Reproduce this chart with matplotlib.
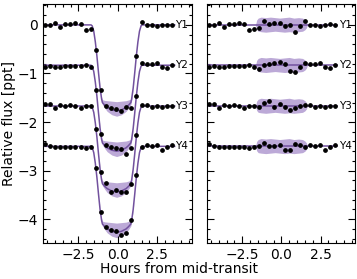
import matplotlib
matplotlib.use("Agg")
import matplotlib.pyplot as plt
from matplotlib.ticker import MultipleLocator
import numpy as np

# observation times (hours from mid-transit)
times = [-4.63, -4.31, -3.98, -3.66, -3.34, -3.02, -2.69, -2.37, -2.05, -1.73,
         -1.40, -1.08, -0.76, -0.44, -0.11, 0.21, 0.53, 0.85, 1.18, 1.50,
         1.82, 2.14, 2.47, 2.79, 3.11, 3.43]

labels = ["Y1", "Y2", "Y3", "Y4"]
offsets = [0.0, -0.83, -1.67, -2.5]

# relative flux [ppt], already shifted by offset
flux_y1 = [-0.01, -0.01, 0.03, -0.05, 0.01, 0.02, 0.03, 0.02, -0.10, -0.09,
           -0.51, -1.33, -1.66, -1.71, -1.74, -1.78, -1.70, -1.71, -0.63, 0.07,
           -0.01, -0.01, -0.03, 0.00, 0.00, -0.01]
flux_y2 = [-0.86, -0.84, -0.86, -0.86, -0.84, -0.84, -0.84, -0.84, -0.83, -0.86,
           -1.34, -2.25, -2.48, -2.52, -2.53, -2.55, -2.65, -2.53, -1.47, -0.79,
           -0.80, -0.80, -0.78, -0.86, -0.89, -0.83]
flux_y3 = [-1.62, -1.63, -1.72, -1.65, -1.67, -1.64, -1.67, -1.72, -1.67, -1.67,
           -2.14, -3.02, -3.25, -3.44, -3.40, -3.45, -3.45, -3.28, -2.27, -1.65,
           -1.64, -1.70, -1.66, -1.70, -1.67, -1.67]
flux_y4 = [-2.45, -2.50, -2.52, -2.51, -2.51, -2.52, -2.51, -2.52, -2.53, -2.52,
           -2.94, -3.85, -4.17, -4.23, -4.24, -4.32, -4.28, -4.01, -3.08, -2.52,
           -2.47, -2.50, -2.47, -2.58, -2.51, -2.47]

# residuals [ppt]
resid_y1 = [-0.01, -0.01, 0.03, -0.05, 0.01, 0.02, 0.03, 0.02, -0.10, -0.09,
            -0.07, 0.09, 0.02, 0.03, 0.03, -0.03, 0.00, -0.15, -0.02, 0.08,
            -0.01, -0.01, -0.03, 0.00, 0.01, -0.01]
resid_y2 = [-0.03, -0.01, -0.03, -0.03, -0.01, -0.01, -0.01, -0.01, 0.00, -0.03,
            -0.07, 0.00, 0.03, 0.05, 0.07, 0.03, -0.12, -0.14, -0.03, 0.05,
            0.03, 0.03, 0.05, -0.03, -0.06, 0.00]
resid_y3 = [0.05, 0.04, -0.05, 0.02, 0.00, 0.03, 0.00, -0.05, 0.00, 0.00,
            -0.03, 0.07, 0.10, -0.03, 0.04, -0.03, -0.08, -0.05, 0.01, 0.03,
            0.03, -0.03, 0.01, -0.03, 0.00, 0.00]
resid_y4 = [0.05, 0.00, -0.02, -0.01, -0.01, -0.02, -0.01, -0.02, -0.03, -0.02,
            0.00, 0.07, 0.01, 0.01, 0.03, -0.07, -0.08, 0.05, 0.03, -0.01,
            0.03, 0.00, 0.03, -0.08, -0.01, 0.03]

fluxes = [flux_y1, flux_y2, flux_y3, flux_y4]
resids = [resid_y1, resid_y2, resid_y3, resid_y4]

# transit model (relative to out-of-transit level) and its uncertainty band
model_t = [-4.70, -1.70, -1.63, -1.53, -1.43, -1.33, -1.23, -1.13, -1.03, -0.98,
           -0.83, -0.68, -0.38, -0.08, 0.22, 0.52, 0.67, 0.82, 0.87, 0.97,
           1.07, 1.17, 1.27, 1.37, 1.47, 1.54, 3.60]
model_f = [0, 0, -0.02, -0.13, -0.35, -0.64, -0.98, -1.30, -1.53, -1.60,
           -1.655, -1.70, -1.75, -1.77, -1.75, -1.70, -1.655, -1.60, -1.53, -1.30,
           -0.98, -0.64, -0.35, -0.13, -0.02, 0, 0]
band_up = [0, 0, 0, 0, 0, 0, 0, 0.02, 0.04, 0.06,
           0.10, 0.14, 0.18, 0.19, 0.18, 0.14, 0.11, 0.07, 0.04, 0.02,
           0, 0, 0, 0, 0, 0, 0]
band_dn = [0, 0, 0, 0, 0, 0, 0, 0.01, 0.03, 0.04,
           0.06, 0.08, 0.10, 0.11, 0.10, 0.08, 0.06, 0.04, 0.03, 0.01,
           0, 0, 0, 0, 0, 0, 0]

# residual band
rband_t = [-1.65, -1.58, -1.48, -1.30, -1.00, -0.70, -0.40, -0.10, 0.20, 0.50,
           0.80, 1.10, 1.35, 1.50, 1.60, 1.66]
rband_up = [0, 0.10, 0.14, 0.16, 0.15, 0.16, 0.15, 0.14, 0.15, 0.16,
            0.14, 0.15, 0.14, 0.11, 0.07, 0]
rband_dn = [0, 0.09, 0.13, 0.14, 0.15, 0.14, 0.13, 0.14, 0.15, 0.14,
            0.15, 0.14, 0.13, 0.10, 0.06, 0]

line_c = "#72519e"
band_c = "#a085c6"

fig = plt.figure(figsize=(3.57, 2.79), dpi=100)
ax1 = fig.add_axes([0.1204, 0.129, 0.4174, 0.8566])
ax2 = fig.add_axes([0.5798, 0.129, 0.4146, 0.8566])

mt = np.array(model_t)
mf = np.array(model_f)
rt = np.array(rband_t)

for i in range(4):
    off = offsets[i]
    ax1.fill_between(mt, off + mf - np.array(band_dn), off + mf + np.array(band_up),
                     color=band_c, alpha=0.7, lw=0)
    ax1.plot(mt, off + mf, color=line_c, lw=1.1)
    ax1.plot(times, fluxes[i], "o", color="black", ms=2.4)
    ax1.text(3.65, off, labels[i], fontsize=7.5, ha="left", va="center")

    ax2.fill_between(rt, off - np.array(rband_dn), off + np.array(rband_up),
                     color=band_c, alpha=0.7, lw=0)
    ax2.plot([-4.70, 3.55], [off, off], color=line_c, lw=1.1)
    ax2.plot(times, off + np.array(resids[i]), "o", color="black", ms=2.4)
    ax2.text(3.65, off, labels[i], fontsize=7.5, ha="left", va="center")

for ax in (ax1, ax2):
    ax.set_xlim(-4.75, 4.7)
    ax.set_ylim(-4.49, 0.43)
    ax.xaxis.set_major_locator(MultipleLocator(2.5))
    ax.xaxis.set_minor_locator(MultipleLocator(0.5))
    ax.yaxis.set_major_locator(MultipleLocator(1))
    ax.yaxis.set_minor_locator(MultipleLocator(0.2))
    ax.tick_params(which="both", direction="in", top=True, right=True, labelsize=10)
    ax.tick_params(which="major", length=5, width=0.8)
    ax.tick_params(which="minor", length=2.5, width=0.8)

ax2.set_yticklabels([])
ax1.set_ylabel("Relative flux [ppt]", fontsize=10, labelpad=1)
fig.text(0.5, 0.01, "Hours from mid-transit", ha="center", va="bottom", fontsize=10)

fig.savefig("out.png", dpi=100)
